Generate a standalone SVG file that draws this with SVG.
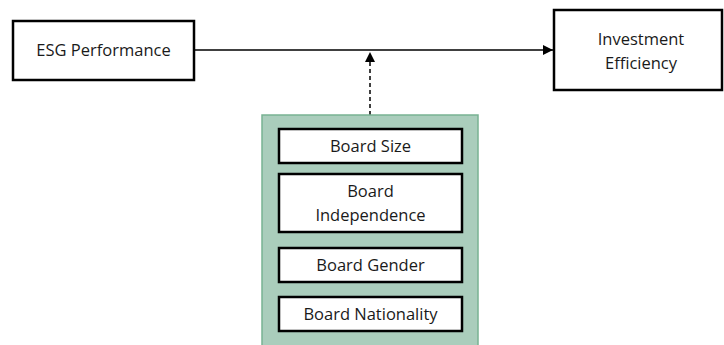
<svg xmlns="http://www.w3.org/2000/svg" width="724" height="345" viewBox="0 0 724 345">
<style>
.box{fill:#fff;stroke:#000;stroke-width:2.5}
.t{font-family:"Open Sans","Liberation Sans",sans-serif;font-size:16.5px;fill:#1a1a1a;text-anchor:middle}
</style>
<defs>
<marker id="ah" viewBox="0 0 10 10" refX="10" refY="5" markerWidth="10" markerHeight="10" markerUnits="userSpaceOnUse" orient="auto">
<path d="M0,0 L10,5 L0,10 Z" fill="#000"/>
</marker>
</defs>
<rect width="724" height="345" fill="#fff"/>
<g id="connectors">
<line x1="194" y1="50" x2="553" y2="50" stroke="#000" stroke-width="1.5" marker-end="url(#ah)"/>
<line x1="370" y1="115" x2="370" y2="52" stroke="#000" stroke-width="1.5" stroke-dasharray="4,3" marker-end="url(#ah)"/>
</g>
<g id="esg">
<rect class="box" x="13" y="21" width="181" height="59"/>
<text class="t" x="103.5" y="56">ESG Performance</text>
</g>
<g id="investment">
<rect class="box" x="554" y="10" width="168" height="80"/>
<text class="t" x="641" y="45">Investment</text>
<text class="t" x="641" y="69">Efficiency</text>
</g>
<g id="board">
<rect x="262" y="115" width="216" height="235" fill="#aacdbc" stroke="#78b293" stroke-width="1.5"/>
<g id="board-size">
<rect class="box" x="279" y="129" width="183" height="34"/>
<text class="t" x="370.5" y="152">Board Size</text>
</g>
<g id="board-independence">
<rect class="box" x="279" y="174" width="183" height="58"/>
<text class="t" x="370.5" y="197">Board</text>
<text class="t" x="370.5" y="221">Independence</text>
</g>
<g id="board-gender">
<rect class="box" x="279" y="248" width="183" height="34"/>
<text class="t" x="370.5" y="271">Board Gender</text>
</g>
<g id="board-nationality">
<rect class="box" x="279" y="297" width="183" height="34"/>
<text class="t" x="370.5" y="320">Board Nationality</text>
</g>
</g>
</svg>
